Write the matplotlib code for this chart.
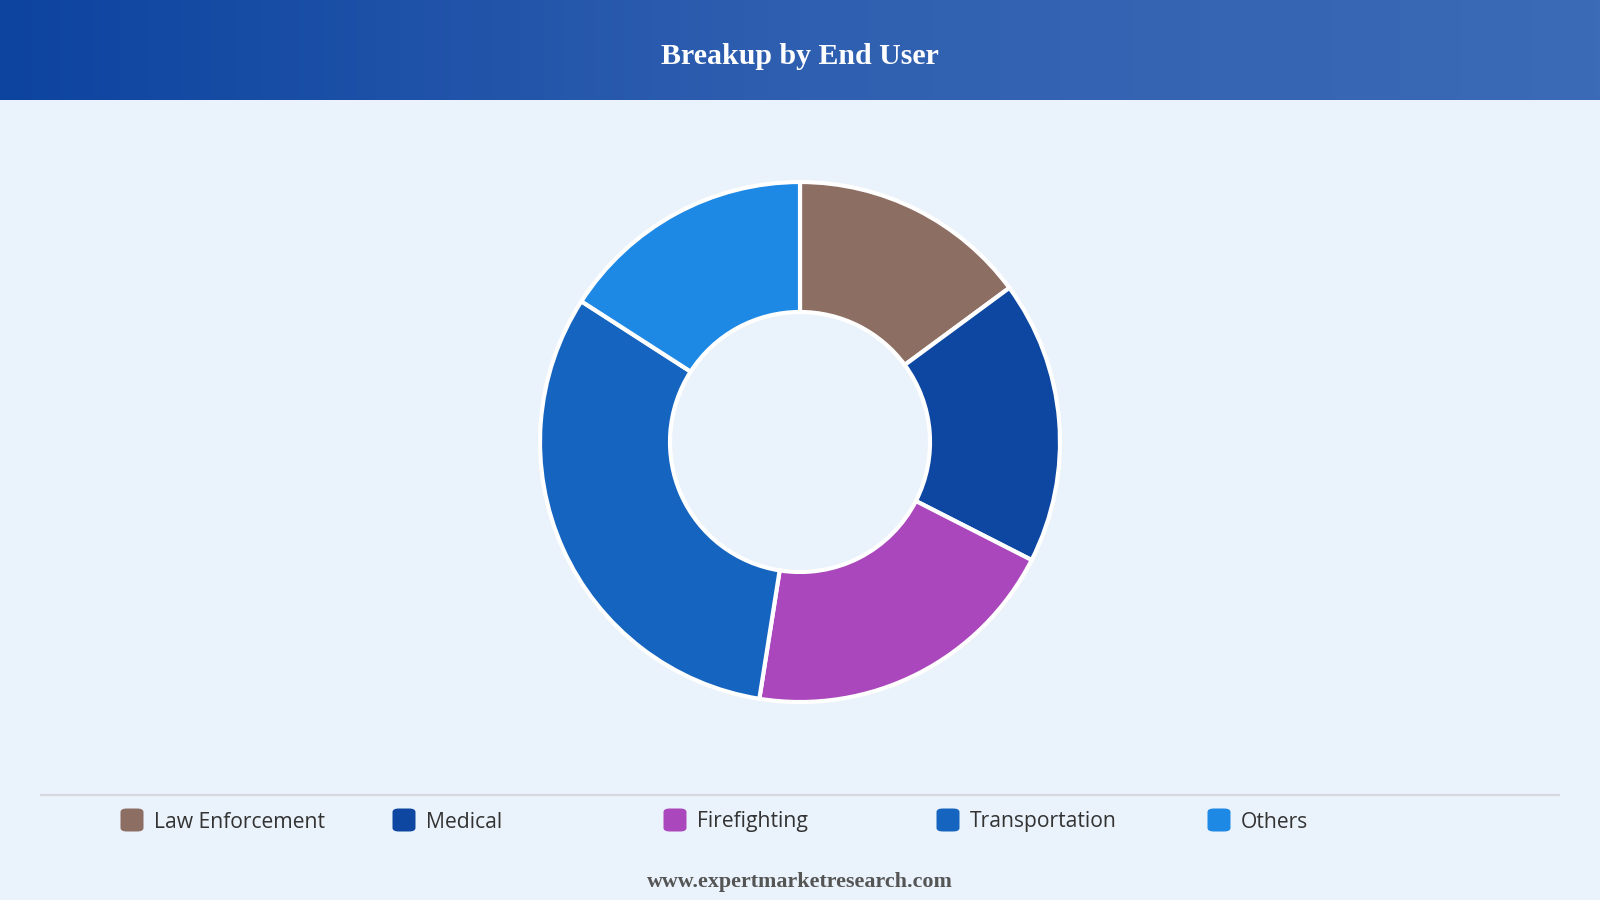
import numpy as np
import matplotlib
matplotlib.use("Agg")
import matplotlib.pyplot as plt
from matplotlib.patches import FancyBboxPatch
from matplotlib.lines import Line2D
from matplotlib.colors import LinearSegmentedColormap

# Data
categories = ["Law Enforcement", "Medical", "Firefighting", "Transportation", "Others"]
shares = [14.9, 17.6, 20.0, 31.6, 15.9]
colors = ["#8D6E63", "#0D47A1", "#AB47BC", "#1565C0", "#1E88E5"]
title = "Breakup by End User"
footer = "www.expertmarketresearch.com"

W, H = 1600, 900
BG = "#EAF2FB"
fig = plt.figure(figsize=(16, 9), dpi=100, facecolor=BG)

# Header gradient
hdr = fig.add_axes([0, 1 - 100 / H, 1, 100 / H])
grad = np.linspace(0, 1, 512).reshape(1, -1)
cmap = LinearSegmentedColormap.from_list("hdr", ["#0D44A0", "#2F5FB0", "#3B6BB6"])
hdr.imshow(grad, aspect="auto", cmap=cmap, extent=[0, 1, 0, 1])
hdr.set_axis_off()
hdr.text(0.5, 0.43, title, ha="center", va="center", color="white",
         fontsize=21.5, fontweight="bold", family="Liberation Serif")

# Donut
R = 260
pad = 1.05
side = 2 * pad * R
cx, cy = 800, 442
ax = fig.add_axes([(cx - side / 2) / W, (H - cy - side / 2) / H, side / W, side / H])
ax.set_facecolor(BG)
ax.pie(shares, colors=colors, startangle=90, counterclock=False, radius=1,
       wedgeprops=dict(width=0.5, edgecolor="white", linewidth=3))
ax.set_xlim(-pad, pad)
ax.set_ylim(-pad, pad)
ax.set_aspect("equal")
ax.set_axis_off()

# Separator line
fig.add_artist(Line2D([41 / W, 1559 / W], [1 - 795 / H, 1 - 795 / H],
                      color="#D5D9DE", linewidth=1.5))

# Legend
leg_x = [132, 404, 675, 948, 1219]
ly = 820
sq = 23
for x, lab, c in zip(leg_x, categories, colors):
    fig.add_artist(FancyBboxPatch(((x - sq / 2) / W, (H - ly - sq / 2) / H), sq / W, sq / H,
                                  boxstyle="round,pad=0,rounding_size=0.004",
                                  transform=fig.transFigure, facecolor=c, edgecolor="none"))
    fig.text((x + 22) / W, 1 - (ly + 2) / H, lab, ha="left", va="center",
             fontsize=15.2, color="#333333", family="Open Sans")

# Footer
fig.text(0.5, 1 - 882 / H, footer, ha="center", va="center", color="#555555",
         fontsize=15.8, fontweight="bold", family="Liberation Serif")

fig.savefig("out.png", dpi=100, facecolor=BG)
